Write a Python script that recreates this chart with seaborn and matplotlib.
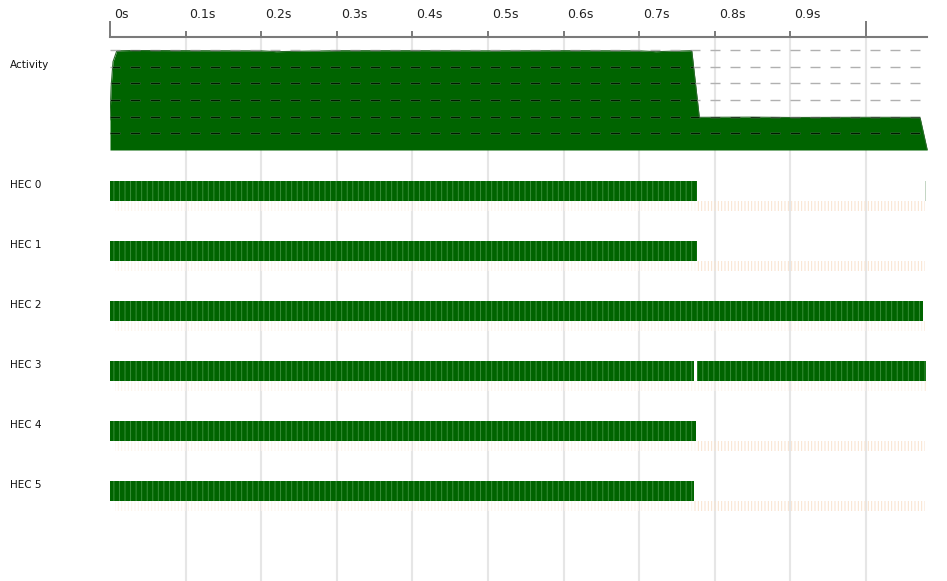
import matplotlib
matplotlib.use("Agg")
import matplotlib.pyplot as plt
import matplotlib.transforms as mtransforms
import seaborn as sns

# ---------------- data ----------------
tick_times = [0.0, 0.1, 0.2, 0.3, 0.4, 0.5, 0.6, 0.7, 0.8, 0.9]
tick_labels = ["0s", "0.1s", "0.2s", "0.3s", "0.4s", "0.5s", "0.6s", "0.7s", "0.8s", "0.9s"]
major_ticks = [0.0, 1.0]
grid_times = [0.1, 0.2, 0.3, 0.4, 0.5, 0.6, 0.7, 0.8, 0.9, 1.0]

# activity profile: number of busy HECs over time
act_t = [0.0, 0.0015, 0.004, 0.009, 0.03, 0.1, 0.2, 0.22, 0.3, 0.4, 0.5, 0.6, 0.7, 0.722, 0.7695,
         0.7795, 0.85, 0.9, 1.0, 1.0714, 1.081]
act_n = [1.8, 3.8, 5.3, 5.95, 5.97, 5.96, 5.95, 5.9, 5.96, 5.96, 5.95, 5.96, 5.95, 5.9, 5.96,
         1.96, 1.97, 1.95, 1.96, 1.96, 0.0]
act_levels = [1, 2, 3, 4, 5, 6]
dash_end = 1.0714

hec_labels = ["HEC 0", "HEC 1", "HEC 2", "HEC 3", "HEC 4", "HEC 5"]
hec_runs = [
    [(0.0, 0.7765)],
    [(0.0, 0.7765)],
    [(0.0, 1.0758)],
    [(0.0, 0.7725), (0.7765, 1.0788)],
    [(0.0, 0.7752)],
    [(0.0, 0.7725)],
]
hec_blips = [[(1.0779, 0.0013)], [], [], [], [], []]
spark_start = 0.006
spark_end = 1.0785

# ---------------- style ----------------
sns.set_theme(style="white")
plt.rcParams["font.family"] = ["DejaVu Sans"]
plt.rcParams["hatch.linewidth"] = 0.7

W, H = 947, 581
fig = plt.figure(figsize=(W / 100, H / 100), dpi=100)
fig.patch.set_facecolor("white")

x0 = 110
pps = 756.0  # pixels per second
xmax = (W - x0) / pps


def axes_px(top, bottom):
    return [x0 / W, (H - bottom) / H, (W - x0) / W, (bottom - top) / H]


# background / time axis
ax = fig.add_axes(axes_px(37, H))
ax.set_xlim(0, xmax)
ax.set_ylim(0, 1)
for s in ["left", "right", "bottom"]:
    ax.spines[s].set_visible(False)
ax.spines["top"].set_color("#7a7a7a")
ax.spines["top"].set_linewidth(1.5)
ax.spines["top"].set_bounds(0, (927 - x0) / pps)
ax.set_yticks([])
ax.xaxis.set_ticks_position("top")
ax.set_xticks(major_ticks, labels=["", ""])
ax.set_xticks(tick_times[1:], minor=True)
ax.tick_params(axis="x", which="major", direction="out", length=11.5, width=1.4,
               color="#7a7a7a", labeltop=False, top=True, bottom=False)
ax.tick_params(axis="x", which="minor", direction="out", length=4.3, width=1.4,
               color="#7a7a7a", labeltop=False, top=True, bottom=False)
for t in grid_times:
    ax.axvline(t, color="#e6e6e6", lw=1.5, zorder=0)
lab_tr = ax.get_xaxis_transform() + mtransforms.ScaledTranslation(4 / 100, 0, fig.dpi_scale_trans)
for t, lab in zip(tick_times, tick_labels):
    ax.text(t, 1 + 23 / (H - 37), lab, transform=lab_tr, ha="left", va="center",
            fontsize=9, color="#222222")

# activity graph
axa = fig.add_axes(axes_px(50, 150))
axa.patch.set_alpha(0)
axa.set_xlim(0, xmax)
axa.set_ylim(0, 6)
axa.axis("off")
poly = axa.fill_between(act_t, act_n, color="#006400", lw=0, zorder=1)
sns.lineplot(x=act_t, y=act_n, ax=axa, color="#2a6a2a", lw=0.8, zorder=2, sort=False)
clip_path = poly.get_paths()[0]
for lv in act_levels:
    axa.plot([0, dash_end], [lv, lv], color="#b0b0b0", lw=1, ls=(0, (7.2, 7.2)),
             zorder=3, clip_on=False)
    dl, = axa.plot([0, dash_end], [lv, lv], color="#001c00", lw=1, ls=(0, (7.2, 7.2)),
                   zorder=4)
    dl.set_clip_path(clip_path, axa.transData)
fig.text(10 / W, 1 - 65 / H, "Activity", fontsize=7.5, va="center", ha="left", color="#111111")

# HEC rows
axh = fig.add_axes(axes_px(151, 571))
axh.patch.set_alpha(0)
axh.set_xlim(0, xmax)
axh.set_ylim(6.5, -0.5)
axh.axis("off")
bar_h = 1 / 3
spark_h = 1 / 6
for i, (lab, runs) in enumerate(zip(hec_labels, hec_runs)):
    run_end = max(e for s, e in runs)
    # faint spark ticks underneath
    axh.broken_barh([(spark_start, run_end - spark_start)], (i + bar_h, spark_h),
                    facecolors="none", edgecolors="#fdf3ea", hatch="|||||", linewidth=0)
    axh.broken_barh([(run_end, spark_end - run_end)], (i + bar_h, spark_h),
                    facecolors="none", edgecolors="#f9e2cd", hatch="|||||", linewidth=0)
    segs = [(s, e - s) for s, e in runs]
    axh.broken_barh(segs, (i, bar_h), facecolors="#006400", linewidth=0)
    axh.broken_barh(segs, (i, bar_h), facecolors="none", edgecolors="#6ab46a",
                    hatch="|||", linewidth=0, alpha=0.55)
    if hec_blips[i]:
        axh.broken_barh(hec_blips[i], (i, bar_h), facecolors="#c4d6c4", linewidth=0)
    fig.text(10 / W, 1 - (185 + 60 * i) / H, lab, fontsize=7.5, va="center", ha="left",
             color="#111111")

fig.savefig("out.png", dpi=100, facecolor="white")
